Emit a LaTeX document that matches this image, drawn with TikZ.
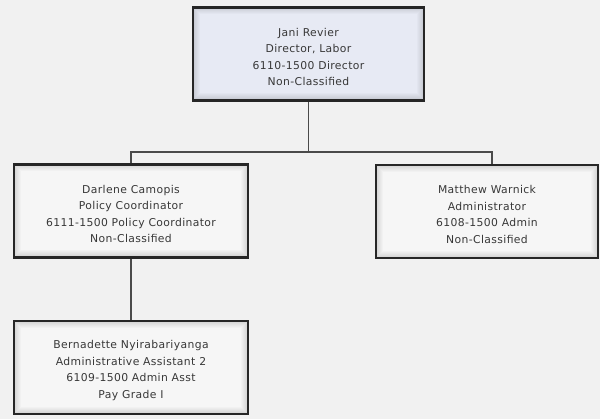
\documentclass[tikz,border=0pt]{standalone}
\usepackage{fontspec}
\setmainfont[LetterSpace=3.5]{DejaVu Sans}
\definecolor{bgcol}{HTML}{F1F1F1}
\definecolor{topfill}{HTML}{E7EAF4}
\definecolor{boxfill}{HTML}{F6F6F6}
\definecolor{txtcol}{HTML}{383838}
\definecolor{linkcol}{HTML}{4A4A4A}
% taller first line pushes each text block a little lower in its box
\newcommand\firststrut{\rule{0pt}{14pt}}
\tikzset{
  orgbox/.style={draw=black!85, line width=2.2pt, fill=boxfill,
    minimum width=#1, minimum height=93pt, align=center, inner sep=0pt,
    text=txtcol, font=\fontsize{10.8}{16.5}\selectfont,
    path picture={
      \foreach \i in {1,...,7}{
        \draw[black, line width=1pt, opacity={0.16*(1-\i/8)}]
          ([shift={(\i pt-0.5pt,-\i pt+0.5pt)}]path picture bounding box.north west)
          rectangle
          ([shift={(-\i pt+0.5pt,\i pt-0.5pt)}]path picture bounding box.south east);
      }
    }},
  orgbox/.default=234pt,
  link/.style={draw=linkcol, line width=1.4pt}
}
\begin{document}
\begin{tikzpicture}[x=1pt,y=-1pt]
  % page and background
  \fill[bgcol] (0,0) rectangle (600,419);
  \useasboundingbox (0,0) rectangle (600,419);

  % position boxes
  \node[orgbox=231pt, fill=topfill] (dir) at (308.5,54)
    {\firststrut Jani Revier\\Director, Labor\\6110-1500 Director\\Non-Classified};
  \node[orgbox] (pol) at (131,211)
    {\firststrut Darlene Camopis\\Policy Coordinator\\6111-1500 Policy Coordinator\\Non-Classified};
  \node[orgbox=222pt] (adm) at (487,211.5)
    {\firststrut Matthew Warnick\\Administrator\\6108-1500 Admin\\Non-Classified};
  \node[orgbox] (asst) at (131,367.5)
    {\firststrut Bernadette Nyirabariyanga\\Administrative Assistant 2\\6109-1500 Admin Asst\\Pay Grade I};

  % reporting lines
  \coordinate (bus) at (308.5,152);
  \coordinate (rdrop) at (492,152);
  \draw[link] (dir.south) -- (bus);
  \draw[link] (pol.north) |- (rdrop) -- (rdrop |- adm.north);
  \draw[link] (pol.south) -- (asst.north);
\end{tikzpicture}
\end{document}
